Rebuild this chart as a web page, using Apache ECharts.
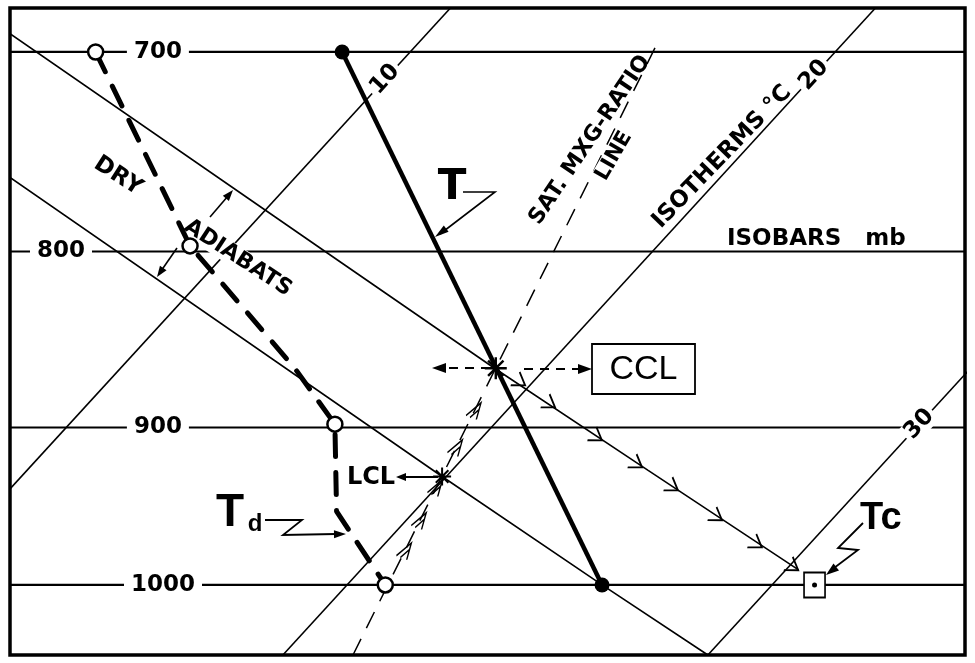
<!DOCTYPE html>
<html><head><meta charset="utf-8">
<script src="https://cdn.jsdelivr.net/npm/echarts@6/dist/echarts.min.js"></script>
<style>html,body{margin:0;padding:0;background:#fff}#c{width:975px;height:663px}</style>
</head><body><div id="c"></div>
<script>
// ---------- data (pressure in mb, temperature in °C) ----------
const isobars = [700, 800, 900, 1000];
const isotherms = [10, 20, 30];
const tempP = [700, 1000];
const tempT = [8.4, 26.0];
const dewP = [700, 797, 865, 898, 952, 1000];
const dewT = [2.6, 9.0, 14.1, 16.25, 18.17, 20.9];
const dewMarkedP = [700, 797, 898, 1000];
const adiabatAP = [680, 800, 865, 926, 990];
const adiabatAT = [-1.2, 12.3, 18.8, 24.6, 30.3];
const adiabatBP = [755, 930, 1000, 1048];
const adiabatBT = [2.6, 19.9, 26.0, 30.0];
const satP = [1048, 697];
const satT = [21.65, 15.65];
const cclPT = [865, 18.83];
const lclPT = [930, 19.9];
const tcPT = [1000, 31.0];
const ascentArrowP = [873, 886, 905.7, 922.3, 936.6, 955.5, 973, 988];
const ascentArrowT = [19.7, 20.88, 22.69, 24.22, 25.56, 27.24, 28.76, 30.11];
const satArrowP = [976.9, 957.4, 936.5, 911.8, 889.5];
const satArrowT = [20.62, 20.32, 19.99, 19.60, 19.24];

// ---------- diagram geometry ----------
const K = 32.2;                     // skew of isotherms (°C per unit ln p)
const XMIN = 12.07, XMAX = 34.54;   // skewed temperature range
const PMIN = 679.7, PMAX = 1048;    // pressure range
function sk(T, p) { return [T + K * Math.log(1000 / p), p]; }
const isobarLabelX = [15.55, 13.27, 15.55, 15.67];
const isothermLabelP = [713, 711, 898];

const FONT = 'DejaVu Sans';
const series = [];
const base = { silent: true, animation: false };

isobars.forEach(p => series.push(Object.assign({ type: 'line', z: 1, symbol: 'none',
  data: [[XMIN, p], [XMAX, p]], lineStyle: { color: '#000', width: 2.2 } }, base)));
isotherms.forEach(t => series.push(Object.assign({ type: 'line', z: 1, symbol: 'none',
  data: [sk(t, PMIN), sk(t, PMAX)], lineStyle: { color: '#000', width: 1.6 } }, base)));
series.push(Object.assign({ type: 'line', z: 1, symbol: 'none',
  data: adiabatAP.map((p, i) => sk(adiabatAT[i], p)), lineStyle: { color: '#000', width: 1.6 } }, base));
series.push(Object.assign({ type: 'line', z: 1, symbol: 'none',
  data: adiabatBP.map((p, i) => sk(adiabatBT[i], p)), lineStyle: { color: '#000', width: 1.6 } }, base));
series.push(Object.assign({ type: 'line', z: 1, symbol: 'none',
  data: satP.map((p, i) => sk(satT[i], p)), lineStyle: { color: '#000', width: 1.5, type: [18, 12] } }, base));

// isobar & isotherm labels
series.push(Object.assign({ type: 'scatter', z: 1.5, symbolSize: 1, itemStyle: { color: 'rgba(0,0,0,0)', opacity: 1 },
  label: { show: true, position: 'inside', formatter: '{b}', color: '#000', fontFamily: FONT, fontWeight: 'bold',
    fontSize: 23, backgroundColor: '#fff', padding: [3, 7], opacity: 1 },
  data: isobars.map((p, i) => ({ name: String(p), value: [isobarLabelX[i], p] })) }, base));
series.push(Object.assign({ type: 'scatter', z: 1.5, symbolSize: 1, itemStyle: { color: 'rgba(0,0,0,0)', opacity: 1 },
  label: { show: true, position: 'inside', formatter: '{b}', color: '#000', fontFamily: FONT, fontWeight: 'bold',
    fontSize: 23, rotate: 47.5, backgroundColor: '#fff', padding: [0, 3], opacity: 1 },
  data: isotherms.map((t, i) => ({ name: String(t), value: sk(t, isothermLabelP[i]) })) }, base));

// profiles
series.push(Object.assign({ type: 'line', z: 3, data: dewP.map((p, i) => sk(dewT[i], p)), symbol: 'none',
  lineStyle: { color: '#000', width: 5, type: [22, 16], cap: 'round' } }, base));
series.push(Object.assign({ type: 'line', z: 3, data: tempP.map((p, i) => sk(tempT[i], p)),
  symbol: 'circle', symbolSize: 15, showSymbol: true, itemStyle: { color: '#000', opacity: 1 },
  lineStyle: { color: '#000', width: 4.5 } }, base));
series.push(Object.assign({ type: 'scatter', z: 5, symbol: 'circle', symbolSize: 15,
  itemStyle: { color: '#fff', borderColor: '#000', borderWidth: 2.5, opacity: 1 },
  data: dewMarkedP.map(p => sk(dewT[dewP.indexOf(p)], p)) }, base));

// arrows along the ascent paths
series.push(Object.assign({ type: 'scatter', z: 4, symbol: 'path://M0,12L8,0L16,12', symbolSize: [16, 12],
  symbolRotate: -124, itemStyle: { color: 'rgba(0,0,0,0)', borderColor: '#000', borderWidth: 1.7, opacity: 1 },
  data: ascentArrowP.map((p, i) => sk(ascentArrowT[i], p)) }, base));
series.push(Object.assign({ type: 'scatter', z: 4, symbol: 'path://M0,18L7,0L10,17M4,18L8,7', symbolSize: [11, 18],
  symbolRotate: -26.6, itemStyle: { color: 'rgba(0,0,0,0)', borderColor: '#000', borderWidth: 1.7, opacity: 1 },
  data: satArrowP.map((p, i) => sk(satArrowT[i], p)) }, base));

// CCL / LCL stars
const STAR = 'path://M10,0L10,20M0,10L20,10M3,3L17,17M3,17L17,3';
series.push(Object.assign({ type: 'scatter', z: 4, symbol: STAR, symbolSize: 22,
  itemStyle: { color: 'rgba(0,0,0,0)', borderColor: '#000', borderWidth: 2.4, opacity: 1 },
  data: [sk(cclPT[1], cclPT[0])] }, base));
series.push(Object.assign({ type: 'scatter', z: 4, symbol: STAR, symbolSize: 18,
  itemStyle: { color: 'rgba(0,0,0,0)', borderColor: '#000', borderWidth: 2, opacity: 1 },
  data: [sk(lclPT[1], lclPT[0])] }, base));
// Tc
series.push(Object.assign({ type: 'scatter', z: 5, symbol: 'rect', symbolSize: [21, 25],
  itemStyle: { color: '#fff', borderColor: '#000', borderWidth: 1.8, opacity: 1 }, data: [sk(tcPT[1], tcPT[0])] }, base));
series.push(Object.assign({ type: 'scatter', z: 6, symbol: 'circle', symbolSize: 5,
  itemStyle: { color: '#000', opacity: 1 }, data: [sk(tcPT[1], tcPT[0])] }, base));

// ---------- annotations ----------
function txt(x, y, text, size, rot, extra, z) {
  return { type: 'text', x, y, rotation: (rot || 0) * Math.PI / 180, z: z || 10, silent: true,
    style: Object.assign({ text, fontSize: size, fontFamily: FONT, fontWeight: 'bold', fill: '#000',
      align: 'center', verticalAlign: 'middle' }, extra || {}) };
}
function pline(points, w, dash) {
  return { type: 'polyline', z: 10, silent: true, shape: { points },
    style: { stroke: '#000', lineWidth: w, fill: null, lineDash: dash || null } };
}
function head(tip, from, len, half) {
  const dx = tip[0] - from[0], dy = tip[1] - from[1], L = Math.hypot(dx, dy);
  const ux = dx / L, uy = dy / L, bx = tip[0] - ux * len, by = tip[1] - uy * len;
  return { type: 'polygon', z: 10, silent: true,
    shape: { points: [tip, [bx - uy * half, by + ux * half], [bx + uy * half, by - ux * half]] },
    style: { fill: '#000' } };
}
const g = [
  txt(727, 239, 'ISOBARS   mb', 23, 0, { align: 'left' }),
  txt(722, 157, 'ISOTHERMS °C', 23, 46),
  txt(614, 156, 'LINE', 21, 60, { backgroundColor: '#fff', padding: [0, 3] }, 1.6),
  txt(590, 140, 'SAT. MXG-RATIO', 22, 56),
  txt(118, 176, 'DRY', 23, -33),
  txt(238, 258, 'ADIABATS', 22, -33, { backgroundColor: '#fff' }, 1.6),
  txt(452, 188, 'T', 42, 0),
  pline([[463, 192], [495, 192], [440, 234]], 1.6), head([435, 237], [495, 192], 14, 4),
  txt(230, 513, 'T', 46, 0, { fontFamily: 'Liberation Sans' }),
  txt(255, 524, 'd', 24, 0, { fontFamily: 'Liberation Sans' }),
  pline([[265, 520], [302, 520], [283, 535], [336, 534]], 1.8), head([346, 534], [283, 535], 12, 4),
  txt(860, 519, 'Tc', 38, 0, { fontFamily: 'Liberation Sans', align: 'left' }),
  pline([[863, 523], [838, 548], [858, 550], [834, 568]], 1.8), head([826, 575], [858, 550], 13, 4.5),
  txt(371, 478, 'LCL', 24, 0),
  pline([[438, 477], [404, 477]], 2), head([396, 477], [438, 477], 10, 4),
  { type: 'rect', z: 10, silent: true, shape: { x: 592, y: 344, width: 103, height: 50 },
    style: { fill: '#fff', stroke: '#000', lineWidth: 1.8 } },
  txt(643.5, 370, 'CCL', 34, 0, { fontFamily: 'Liberation Sans', fontWeight: 'normal' }, 11),
  pline([[490, 368], [444, 368]], 2, [9, 7]), head([432, 368], [490, 368], 14, 5),
  pline([[524, 369], [580, 369]], 2, [9, 7]), head([592, 369], [524, 369], 14, 5),
  pline([[210, 217], [228, 196]], 1.6), head([233, 190], [210, 217], 11, 4),
  pline([[177, 248], [161, 271]], 1.6), head([157, 277], [177, 248], 11, 4)
];

const chart = echarts.init(document.getElementById('c'));
chart.setOption({
  animation: false,
  backgroundColor: '#fff',
  grid: { left: 10, top: 8, right: 10, bottom: 8, show: true, borderColor: '#000', borderWidth: 3.5,
    backgroundColor: '#fff', containLabel: false },
  xAxis: { type: 'value', min: XMIN, max: XMAX, show: false },
  yAxis: { type: 'log', logBase: 10, min: PMIN, max: PMAX, inverse: true, show: false },
  series,
  graphic: g
});
</script></body></html>
